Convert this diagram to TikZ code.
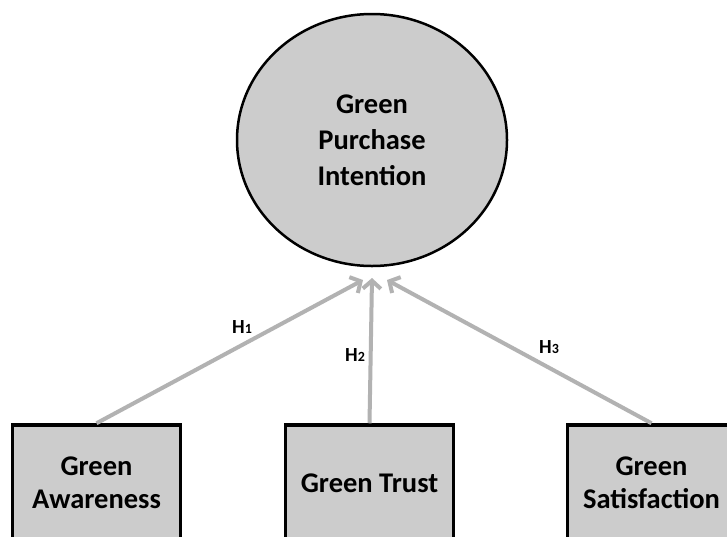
\documentclass[tikz,border=0pt]{standalone}
\usepackage{fontspec}
\setmainfont{Carlito}
\usetikzlibrary{arrows.meta,shapes.geometric,positioning}
\definecolor{fillgray}{RGB}{204,204,204}
\definecolor{arrowgray}{RGB}{178,178,178}

\begin{document}
\begin{tikzpicture}[x=1pt,y=-1pt,
    construct/.style={draw=black,line width=3.5pt,fill=fillgray,
      minimum width=168pt,minimum height=116pt,align=center,
      font=\fontsize{28.5}{33}\selectfont\bfseries},
    outcome/.style={ellipse,draw=black,line width=2.5pt,fill=fillgray,
      minimum width=270pt,minimum height=252pt,align=center,
      font=\fontsize{28.5}{36}\selectfont\bfseries},
    effect/.style={draw=arrowgray,line width=4pt,
      -{Straight Barb[length=8pt,width=18pt]}},
    hyp/.style={font=\fontsize{20}{20}\selectfont\bfseries}]
    \useasboundingbox (0,0) rectangle (727,536);
    \clip (0,0) rectangle (727,536);
    \fill[white] (0,0) rectangle (727,536);
    \node[outcome] (gpi) at (372,140) {Green\\Purchase\\Intention};
    \node[construct] (ga) at (96.5,483) {Green\\Awareness};
    \node[construct] (gt) at (369.5,483) {Green Trust};
    \node[construct] (gs) at (651.5,483) {Green\\Satisfaction};
    \coordinate (t1) at (363,280);
    \coordinate (t2) at (372,278);
    \coordinate (t3) at (387,280);
    \draw[effect] (ga.north) -- (t1);
    \draw[effect] (gt.north) -- (t2);
    \draw[effect] (gs.north) -- (t3);
    \node[hyp] (h1) at (242,327) {H{\fontsize{14}{14}\selectfont 1}};
    \node[hyp] (h2) at (355,355) {H{\fontsize{14}{14}\selectfont 2}};
    \node[hyp] (h3) at (549,347) {H{\fontsize{14}{14}\selectfont 3}};
\end{tikzpicture}
\end{document}
